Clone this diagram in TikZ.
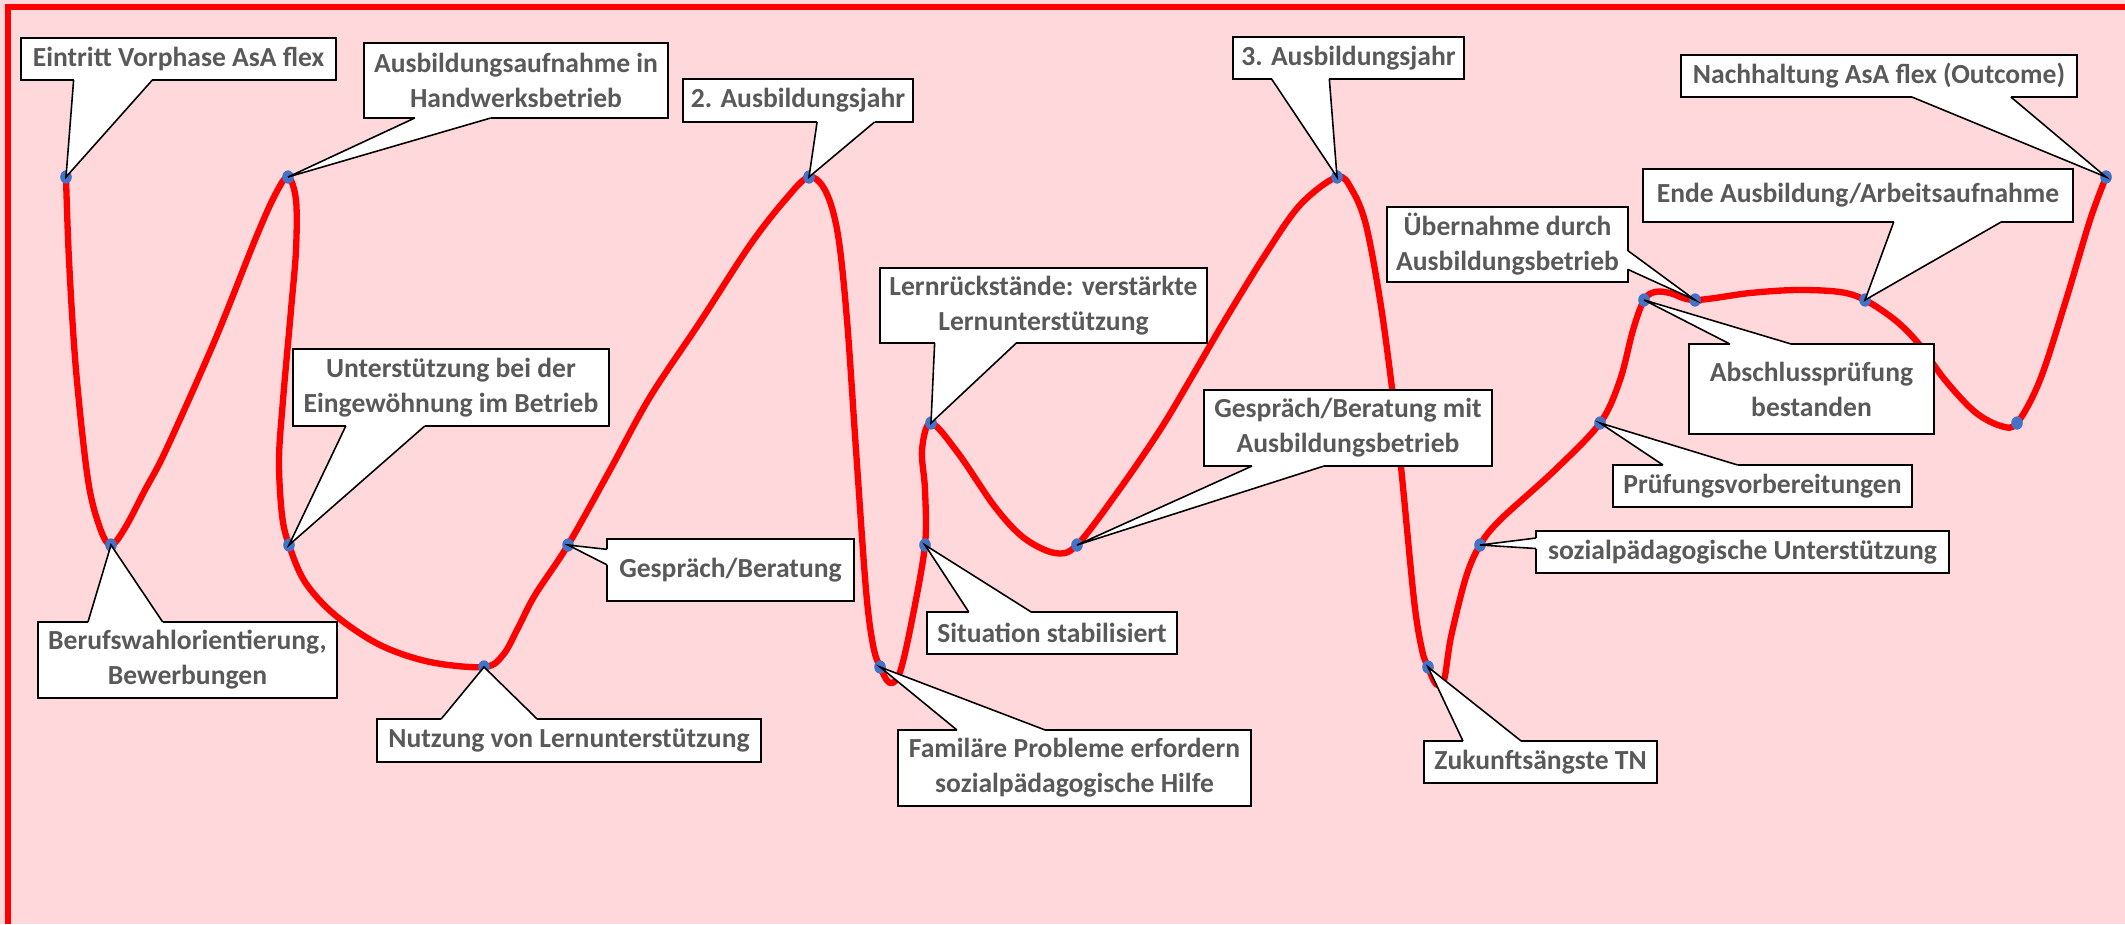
\documentclass[tikz,border=0pt]{standalone}
\usepackage{fontspec}
\setmainfont{Carlito}
\usetikzlibrary{calc}

\definecolor{bgpink}{RGB}{255,216,220}
\definecolor{dotblue}{RGB}{68,114,196}
\definecolor{txtgray}{RGB}{89,89,89}

\tikzset{
	curve/.style={red, line width=3.6pt, line cap=round, line join=round},
	dot/.style={fill=dotblue},
	box/.style={draw=black, fill=white, line width=1pt, outer sep=0pt, inner sep=2pt,
		align=center, text=txtgray, font=\bfseries\fontsize{15.7}{19.9}\selectfont, minimum height=0.84cm},
	pointer/.style={fill=white, draw=black, line width=0.9pt, line join=miter}
}

% pointer of a callout box: base on the edge from #2 to #3 of box #1, tip at #4
\newcommand{\callout}[4]{%
	\draw[white, line width=1.6pt] ($(#1.#2)!0.167!(#1.#3)$) -- ($(#1.#2)!0.417!(#1.#3)$);
	\filldraw[pointer] ($(#1.#2)!0.167!(#1.#3)$) -- (#4) -- ($(#1.#2)!0.417!(#1.#3)$);
}

\begin{document}
\begin{tikzpicture}[x=0.02cm, y=-0.02cm]
		\useasboundingbox (0,0) rectangle (2125,924);
		\fill[bgpink] (0,0) rectangle (2125,924);
		\draw[red, line width=3.2pt] (8,924) -- (8,7) -- (2125,7);

		% points on the curve
		\coordinate (p1) at (66,177);
		\coordinate (p2) at (111,545);
		\coordinate (p3) at (288,177);
		\coordinate (p4) at (289,545);
		\coordinate (p5) at (484,667);
		\coordinate (p6) at (568,545);
		\coordinate (p7) at (809,177);
		\coordinate (p8) at (880,667);
		\coordinate (p9) at (925,545);
		\coordinate (p10) at (931,423);
		\coordinate (p11) at (1077,545);
		\coordinate (p12) at (1337,177);
		\coordinate (p13) at (1428,667);
		\coordinate (p14) at (1480,545);
		\coordinate (p15) at (1600,423);
		\coordinate (p16) at (1644,300);
		\coordinate (p17) at (1695,300);
		\coordinate (p18) at (1865,300);
		\coordinate (p19) at (2017,423);
		\coordinate (p20) at (2106,177);

		\draw[curve] plot[smooth, tension=0.55] coordinates {
			(p1) (69,260) (76,370) (88,480) (100,528) (p2) (125,528) (145,490) (166,450)
			(215,340) (255,240) (275,195) (p3) (296,200) (296,250) (291,310) (283,400)
			(279,460) (282,515) (p4) (305,582) (335,615) (380,645) (430,662) (p5)
			(503,655) (518,628) (535,595) (p6) (610,470) (650,397) (700,322) (750,245)
			(785,200) (p7) (826,192) (838,235) (847,320) (856,450) (866,590) (873,645)
			(p8) (890,683) (900,672) (912,620) (p9) (925,490) (922,450) (p10) (958,453)
			(995,507) (1024,538) (1055,553) (p11) (1119,490) (1160,430) (1190,380)
			(1225,320) (1265,255) (1300,205) (p12) (1352,190) (1366,225) (1380,300)
			(1391,380) (1401,467) (1414,600) (1422,650) (p13) (1436,684) (1444,680)
			(1451,637) (1466,577) (p14) (1500,520) (1555,470) (p15) (1620,380) (1633,330)
			(p16) (1655,292) (1670,293) (p17) (1750,293) (1797,290) (1840,292) (p18)
			(1895,320) (1918,343) (1945,380) (1975,412) (2001,426) (p19) (2040,380)
			(2066,300) (2090,220) (p20)};

		\foreach \p in {p1,p2,p3,p4,p5,p6,p7,p8,p9,p10,p11,p12,p13,p14,p15,p16,p17,p18,p19,p20}
			\fill[dot] (\p) ellipse[x radius=3.3pt, y radius=3.8pt];

		\node[box, minimum width=6.3cm] (eintritt) at (178.5,59) {Eintritt Vorphase AsA flex};
		\callout{eintritt}{south west}{south east}{p1}
		\node[box, minimum width=5.98cm, minimum height=1.52cm] (berufswahl) at (187.5,660) {Berufswahlorientierung,\\Bewerbungen};
		\callout{berufswahl}{north west}{north east}{p2}
		\node[box, minimum width=6.08cm, minimum height=1.5cm] (aufnahme) at (516,80.5) {Ausbildungsaufnahme in\\Handwerksbetrieb};
		\callout{aufnahme}{south west}{south east}{p3}
		\node[box, minimum width=6.32cm, minimum height=1.54cm] (eingewoehnung) at (451,387.5) {Unterstützung bei der\\Eingewöhnung im Betrieb};
		\callout{eingewoehnung}{south west}{south east}{p4}
		\node[box, minimum width=7.68cm, minimum height=0.86cm] (lernhilfe) at (569,740.5) {Nutzung von Lernunterstützung};
		\callout{lernhilfe}{north west}{north east}{p5}
		\node[box, minimum width=4.94cm, minimum height=1.24cm] (gespraech) at (730.5,570) {Gespräch/Beratung};
		\callout{gespraech}{north west}{south west}{p6}
		\node[box, minimum width=4.6cm, minimum height=0.86cm] (jahr2) at (798,100.5) {2. Ausbildungsjahr};
		\callout{jahr2}{south east}{south west}{p7}
		\node[box, minimum width=7.06cm, minimum height=1.52cm] (familie) at (1074.5,768) {Familäre Probleme erfordern\\sozialpädagogische Hilfe};
		\callout{familie}{north west}{north east}{p8}
		\node[box, minimum width=5cm] (stabil) at (1052,633) {Situation stabilisiert};
		\callout{stabil}{north west}{north east}{p9}
		\node[box, minimum width=6.54cm, minimum height=1.5cm] (rueckstand) at (1043.5,305.5) {Lernrückstände: verstärkte\\Lernunterstützung};
		\callout{rueckstand}{south west}{south east}{p10}
		\node[box, minimum width=5.76cm, minimum height=1.52cm] (betrieb) at (1348,428) {Gespräch/Beratung mit\\Ausbildungsbetrieb};
		\callout{betrieb}{south west}{south east}{p11}
		\node[box, minimum width=4.62cm] (jahr3) at (1348.5,58) {3. Ausbildungsjahr};
		\callout{jahr3}{south west}{south east}{p12}
		\node[box, minimum width=4.66cm] (zukunft) at (1540.5,762) {Zukunftsängste TN};
		\callout{zukunft}{north west}{north east}{p13}
		\node[box, minimum width=8.26cm] (sozial) at (1742.5,552) {sozialpädagogische Unterstützung};
		\callout{sozial}{north west}{south west}{p14}
		\node[box, minimum width=5.98cm] (vorbereitung) at (1762.5,486) {Prüfungsvorbereitungen};
		\callout{vorbereitung}{north west}{north east}{p15}
		\node[box, minimum width=4.9cm, minimum height=1.8cm] (pruefung) at (1811.5,389) {Abschlussprüfung\\bestanden};
		\callout{pruefung}{north west}{north east}{p16}
		\node[box, minimum width=4.82cm, minimum height=1.5cm] (uebernahme) at (1507.5,244.5) {Übernahme durch\\Ausbildungsbetrieb};
		\callout{uebernahme}{south east}{north east}{p17}
		\node[box, minimum width=8.6cm, minimum height=1.06cm] (ende) at (1858,195.5) {Ende Ausbildung/Arbeitsaufnahme};
		\callout{ende}{south east}{south west}{p18}
		\node[box, minimum width=7.92cm] (outcome) at (1879,76) {Nachhaltung AsA flex (Outcome)};
		\callout{outcome}{south east}{south west}{p20}
\end{tikzpicture}
\end{document}
